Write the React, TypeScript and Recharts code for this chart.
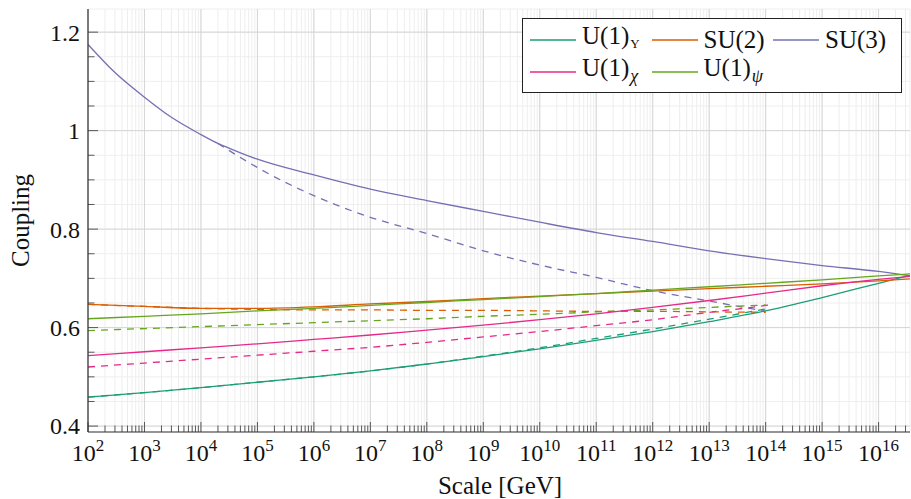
import React from 'react';
import { LineChart, Line, XAxis, YAxis, CartesianGrid, ReferenceLine } from 'recharts';

const FONT = 'Liberation Serif, DejaVu Serif, serif';
const TEXT_STYLE = { fontFamily: FONT, fill: '#111' };
const AXIS = '#333';
const MAJOR_GRID = '#d6d6d6';
const MINOR_GRID = '#eeeeee';

const X_MIN = 1e2;
const GUT_SCALE = 3.6e16;
const Y_MIN = 0.388;
const Y_MAX = 1.247;

// energy scale in GeV
const decadeScale = [1e2, 1e3, 1e4, 1e5, 1e6, 1e7, 1e8, 1e9, 1e10, 1e11, 1e12, 1e13, 1e14, 1e15, 1e16];
const fullScale = [...decadeScale, GUT_SCALE];
const lowScale = decadeScale.slice(0, 13);
const su3Scale = [1e2, 3e2, 1e3, 3e3, 1e4, 2e4, 5e4, ...decadeScale.slice(3), GUT_SCALE];
const su3LowScale = [2e4, ...decadeScale.slice(3, 13)];
const u1ChiLowScale = [...lowScale, 1.3e14];

// couplings, full running (solid) and low-scale running (dashed)
const u1YFull = [0.459, 0.468, 0.478, 0.489, 0.5, 0.512, 0.526, 0.541, 0.557, 0.574, 0.592, 0.612, 0.634, 0.661, 0.69, 0.706];
const u1YLow = [0.459, 0.468, 0.478, 0.489, 0.5, 0.512, 0.526, 0.542, 0.559, 0.578, 0.597, 0.617, 0.638];
const su2Full = [0.647, 0.643, 0.639, 0.639, 0.642, 0.648, 0.653, 0.659, 0.664, 0.669, 0.674, 0.679, 0.684, 0.689, 0.695, 0.699];
const su2Low = [0.647, 0.643, 0.639, 0.637, 0.636, 0.636, 0.635, 0.635, 0.634, 0.633, 0.633, 0.632, 0.631];
const su3Full = [1.175, 1.118, 1.068, 1.027, 0.992, 0.974, 0.955, 0.942, 0.91, 0.881, 0.858, 0.836, 0.814, 0.793, 0.775, 0.756, 0.74, 0.726, 0.714, 0.705];
const su3Low = [0.974, 0.925, 0.868, 0.824, 0.791, 0.756, 0.727, 0.702, 0.675, 0.654, 0.633];
const u1ChiFull = [0.543, 0.551, 0.559, 0.567, 0.576, 0.585, 0.595, 0.605, 0.616, 0.628, 0.641, 0.655, 0.67, 0.685, 0.698, 0.704];
const u1ChiLow = [0.52, 0.528, 0.536, 0.544, 0.552, 0.56, 0.57, 0.581, 0.592, 0.604, 0.616, 0.631, 0.645, 0.647];
const u1PsiFull = [0.618, 0.623, 0.628, 0.634, 0.639, 0.645, 0.651, 0.657, 0.663, 0.669, 0.676, 0.683, 0.69, 0.697, 0.705, 0.709];
const u1PsiLow = [0.594, 0.598, 0.602, 0.606, 0.61, 0.614, 0.618, 0.623, 0.627, 0.632, 0.636, 0.641, 0.646];

const toPoints = (xs: number[], ys: number[]) => xs.map((scale, i) => ({ scale, g: ys[i] }));

const SERIES = [
  { key: 'u1y', label: 'U(1)', sub: 'Y', subItalic: false, color: '#1b9e77', full: toPoints(fullScale, u1YFull), low: toPoints(lowScale, u1YLow) },
  { key: 'su2', label: 'SU(2)', sub: '', subItalic: false, color: '#d95f02', full: toPoints(fullScale, su2Full), low: toPoints(lowScale, su2Low) },
  { key: 'su3', label: 'SU(3)', sub: '', subItalic: false, color: '#7570b3', full: toPoints(su3Scale, su3Full), low: toPoints(su3LowScale, su3Low) },
  { key: 'u1chi', label: 'U(1)', sub: 'χ', subItalic: true, color: '#e7298a', full: toPoints(fullScale, u1ChiFull), low: toPoints(u1ChiLowScale, u1ChiLow) },
  { key: 'u1psi', label: 'U(1)', sub: 'ψ', subItalic: true, color: '#66a61e', full: toPoints(fullScale, u1PsiFull), low: toPoints(lowScale, u1PsiLow) },
];

// tick positions: decades plus 2..9 minor ticks, y every 0.05
const xTicks: number[] = [];
for (let n = 2; n <= 16; n++) {
  for (let k = 1; k <= 9; k++) {
    const v = k * Math.pow(10, n);
    if (v <= GUT_SCALE) xTicks.push(v);
  }
}
const xMajor = decadeScale;
const yTicks = Array.from({ length: 17 }, (_, i) => (40 + 5 * i) / 100);
const yMajor = [0.4, 0.6, 0.8, 1, 1.2];

const MAJOR_LEN = 10;
const MINOR_LEN = 6.5;
const isDecade = (v: number) => Math.abs(Math.log10(v) - Math.round(Math.log10(v))) < 1e-9;
const isYMajor = (v: number) => Math.round(v * 100) % 20 === 0;

const BottomTick = ({ x, y, payload }: any) => {
  const major = isDecade(payload.value);
  return (
    <g>
      <line x1={x} x2={x} y1={y} y2={y - (major ? MAJOR_LEN : MINOR_LEN)} stroke={AXIS} strokeWidth={0.8} />
      {major && (
        <text x={x} y={y + 29} textAnchor="middle" style={{ ...TEXT_STYLE, fontSize: 24 }}>
          10
          <tspan dy={-10} style={{ fontSize: 17 }}>{Math.round(Math.log10(payload.value))}</tspan>
        </text>
      )}
    </g>
  );
};

const TopTick = ({ x, y, payload }: any) => {
  const major = isDecade(payload.value);
  return <line x1={x} x2={x} y1={y} y2={y + (major ? MAJOR_LEN : MINOR_LEN)} stroke={AXIS} strokeWidth={0.8} />;
};

const LeftTick = ({ x, y, payload }: any) => {
  const major = isYMajor(payload.value);
  return (
    <g>
      <line x1={x} x2={x + (major ? MAJOR_LEN : MINOR_LEN)} y1={y} y2={y} stroke={AXIS} strokeWidth={0.8} />
      {major && (
        <text x={x - 8} y={y} dy="0.35em" textAnchor="end" style={{ ...TEXT_STYLE, fontSize: 24 }}>
          {payload.value === 1 ? '1' : payload.value.toFixed(1)}
        </text>
      )}
    </g>
  );
};

const RightTick = ({ x, y, payload }: any) => {
  const major = isYMajor(payload.value);
  return <line x1={x} x2={x - (major ? MAJOR_LEN : MINOR_LEN)} y1={y} y2={y} stroke={AXIS} strokeWidth={0.8} />;
};

const YTitle = () => (
  <text x={29} y={220.5} transform="rotate(-90 29 220.5)" textAnchor="middle" style={{ ...TEXT_STYLE, fontSize: 25 }}>
    Coupling
  </text>
);

const XTitle = () => (
  <text x={500} y={494} textAnchor="middle" style={{ ...TEXT_STYLE, fontSize: 25 }}>
    Scale [GeV]
  </text>
);

const LegendBox = () => (
  <div
    style={{
      position: 'absolute',
      left: 522,
      top: 18,
      width: 378,
      height: 73,
      border: '1px solid #222',
      background: '#fff',
      fontFamily: FONT,
      color: '#111',
    }}
  >
    {SERIES.map((s, i) => {
      const col = i % 3;
      const row = Math.floor(i / 3);
      return (
        <div
          key={s.key}
          style={{
            position: 'absolute',
            left: 7 + col * 121.5,
            top: 5 + row * 32,
            height: 32,
            display: 'flex',
            alignItems: 'center',
            whiteSpace: 'nowrap',
          }}
        >
          <svg width={46} height={4} style={{ display: 'block' }}>
            <line x1={0} x2={46} y1={2} y2={2} stroke={s.color} strokeWidth={1.3} />
          </svg>
          <span style={{ marginLeft: 6, fontSize: 25, lineHeight: '32px' }}>
            {s.label}
            {s.sub && (
              <span
                style={{
                  fontSize: s.subItalic ? 18 : 13,
                  fontStyle: s.subItalic ? 'italic' : 'normal',
                  verticalAlign: s.subItalic ? -6 : -4,
                  marginLeft: 1,
                }}
              >
                {s.sub}
              </span>
            )}
          </span>
        </div>
      );
    })}
  </div>
);

export default function App() {
  return (
    <div style={{ position: 'absolute', left: 0, top: 0, width: 911, height: 499, background: '#fff', fontFamily: FONT }}>
      <LineChart width={911} height={499} margin={{ top: 9, right: 1, bottom: 0, left: 0 }}>
        <CartesianGrid xAxisId="bottom" yAxisId="left" stroke={MINOR_GRID} strokeWidth={1} />
        <XAxis
          xAxisId="bottom"
          type="number"
          dataKey="scale"
          scale="log"
          domain={[X_MIN, GUT_SCALE]}
          allowDataOverflow
          ticks={xTicks}
          interval={0}
          height={67}
          tickSize={0}
          tickMargin={0}
          tickLine={false}
          axisLine={{ stroke: AXIS, strokeWidth: 1.2 }}
          tick={(p: any) => <BottomTick {...p} />}
          label={<XTitle />}
        />
        <XAxis
          xAxisId="top"
          orientation="top"
          type="number"
          dataKey="scale"
          scale="log"
          domain={[X_MIN, GUT_SCALE]}
          allowDataOverflow
          ticks={xTicks}
          interval={0}
          height={0}
          tickSize={0}
          tickMargin={0}
          tickLine={false}
          axisLine={{ stroke: AXIS, strokeWidth: 1.2 }}
          tick={(p: any) => <TopTick {...p} />}
        />
        <YAxis
          yAxisId="left"
          type="number"
          domain={[Y_MIN, Y_MAX]}
          allowDataOverflow
          ticks={yTicks}
          interval={0}
          width={88}
          tickSize={0}
          tickMargin={0}
          tickLine={false}
          axisLine={{ stroke: AXIS, strokeWidth: 1.2 }}
          tick={(p: any) => <LeftTick {...p} />}
          label={<YTitle />}
        />
        <YAxis
          yAxisId="right"
          orientation="right"
          type="number"
          domain={[Y_MIN, Y_MAX]}
          allowDataOverflow
          ticks={yTicks}
          interval={0}
          width={0}
          tickSize={0}
          tickMargin={0}
          tickLine={false}
          axisLine={{ stroke: AXIS, strokeWidth: 1.2 }}
          tick={(p: any) => <RightTick {...p} />}
        />
        {xMajor.map((v) => (
          <ReferenceLine key={`gx${v}`} xAxisId="bottom" yAxisId="left" x={v} stroke={MAJOR_GRID} strokeWidth={1} />
        ))}
        {yMajor.map((v) => (
          <ReferenceLine key={`gy${v}`} xAxisId="bottom" yAxisId="left" y={v} stroke={MAJOR_GRID} strokeWidth={1} />
        ))}
        {SERIES.map((s) => (
          <Line
            key={`${s.key}-low`}
            xAxisId="bottom"
            yAxisId="left"
            data={s.low}
            dataKey="g"
            type="monotone"
            stroke={s.color}
            strokeWidth={1.3}
            strokeDasharray="7 6"
            dot={false}
            activeDot={false}
            isAnimationActive={false}
          />
        ))}
        {SERIES.map((s) => (
          <Line
            key={`${s.key}-full`}
            xAxisId="bottom"
            yAxisId="left"
            data={s.full}
            dataKey="g"
            type="monotone"
            stroke={s.color}
            strokeWidth={1.3}
            dot={false}
            activeDot={false}
            isAnimationActive={false}
          />
        ))}
      </LineChart>
      <LegendBox />
    </div>
  );
}
